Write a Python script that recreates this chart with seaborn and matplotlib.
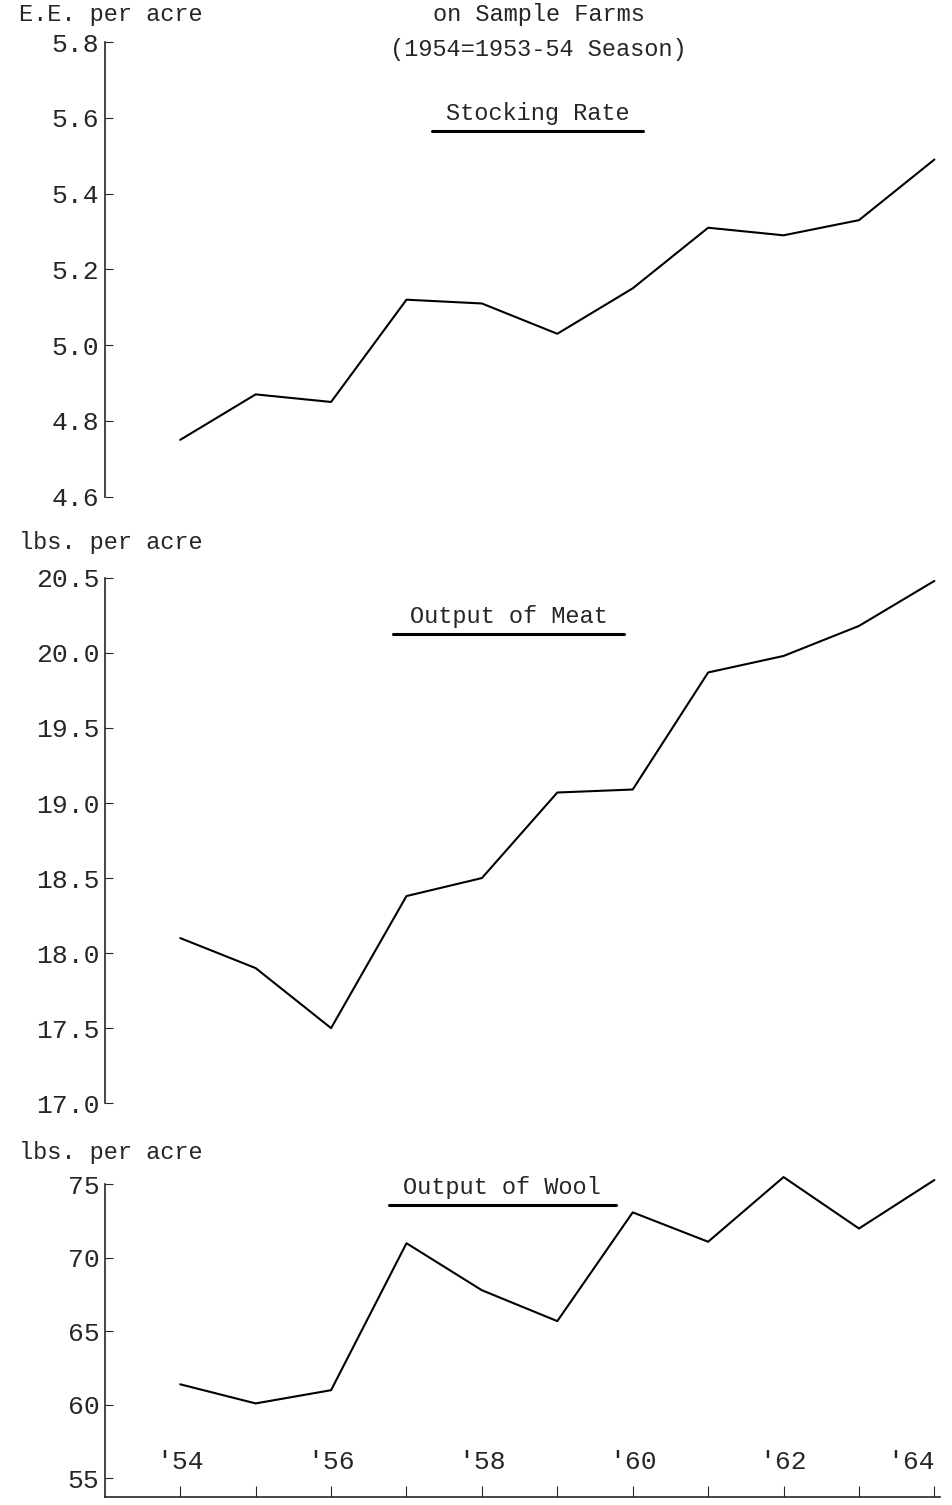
import matplotlib
matplotlib.use("Agg")
import matplotlib.pyplot as plt
import seaborn as sns
import pandas as pd

years = [54, 55, 56, 57, 58, 59, 60, 61, 62, 63, 64]
stocking = [4.75, 4.87, 4.85, 5.12, 5.11, 5.03, 5.15, 5.31, 5.29, 5.33, 5.49]
meat = [18.1, 17.9, 17.5, 18.38, 18.5, 19.07, 19.09, 19.87, 19.98, 20.18, 20.48]
wool = [61.4, 60.1, 61.0, 71.0, 67.8, 65.7, 73.1, 71.1, 75.5, 72.0, 75.3]
xtick_years = [54, 56, 58, 60, 62, 64]
xtick_labels = ["'54", "'56", "'58", "'60", "'62", "'64"]

sns.set_style("white")
plt.rcParams['font.family'] = ['Liberation Mono', 'DejaVu Sans Mono']

fig = plt.figure(figsize=(9.53, 15.05), dpi=100)
L, W = 0.110, 0.876
ax1 = fig.add_axes([L, 0.670, W, 0.302])
ax2 = fig.add_axes([L, 0.267, W, 0.349])
ax3 = fig.add_axes([L, 0.005, W, 0.208])

df = pd.DataFrame({"year": years, "stock": stocking, "meat": meat, "wool": wool})
for ax, col in [(ax1, "stock"), (ax2, "meat"), (ax3, "wool")]:
    sns.lineplot(data=df, x="year", y=col, ax=ax, color="black", lw=1.5)
    for ln in ax.lines:
        ln.set_clip_on(False)
    ax.set_xlim(53, 64.07)
    ax.set_xlabel(""); ax.set_ylabel("")
    for s in ["top", "right"]:
        ax.spines[s].set_visible(False)
    ax.spines["left"].set_linewidth(1.2)
    ax.tick_params(axis="y", direction="in", length=6, labelsize=19, pad=4, left=True)
    ax.set_facecolor("none")

ax1.set_ylim(4.6, 5.8)
ax1.set_yticks([4.6, 4.8, 5.0, 5.2, 5.4, 5.6, 5.8])
ax1.set_yticklabels([f"{v:.1f}" for v in [4.6, 4.8, 5.0, 5.2, 5.4, 5.6, 5.8]])
ax2.set_ylim(17.0, 20.5)
ax2.set_yticks([17.0, 17.5, 18.0, 18.5, 19.0, 19.5, 20.0, 20.5])
ax2.set_yticklabels([f"{v:.1f}" for v in [17.0, 17.5, 18.0, 18.5, 19.0, 19.5, 20.0, 20.5]])
ax3.set_ylim(53.7, 75)
ax3.set_yticks([55, 60, 65, 70, 75])

for ax in (ax1, ax2):
    ax.spines["bottom"].set_visible(False)
    ax.set_xticks([])
ax3.spines["bottom"].set_linewidth(1.2)
ax3.set_xticks(years)
ax3.set_xticklabels([xtick_labels[xtick_years.index(y)] if y in xtick_years else "" for y in years])
ax3.tick_params(axis="x", direction="in", length=8, labelsize=19, pad=-34, bottom=True)
ax3.get_xticklabels()[-1].set_ha("right")
ax3.get_xticklabels()[-1].set_x(64.07)

def title(ax, txt, y, x0, x1):
    ax.text((x0 + x1) / 2, y, txt, transform=ax.transAxes, ha="center", va="bottom", fontsize=17)
    off = 0.012 * (0.35 / ax.get_position().height)
    ax.plot([x0, x1], [y - off, y - off], transform=ax.transAxes, color="black", lw=2.2, clip_on=False)

title(ax1, "Stocking Rate", 0.818, 0.392, 0.645)
title(ax2, "Output of Meat", 0.905, 0.345, 0.622)
title(ax3, "Output of Wool", 0.955, 0.340, 0.612)

fig.text(0.565, 0.998, "on Sample Farms", ha="center", va="top", fontsize=17)
fig.text(0.565, 0.975, "(1954=1953-54 Season)", ha="center", va="top", fontsize=17)
fig.text(0.02, 0.998, "E.E. per acre", ha="left", va="top", fontsize=17)
fig.text(0.02, 0.647, "lbs. per acre", ha="left", va="top", fontsize=17)
fig.text(0.02, 0.242, "lbs. per acre", ha="left", va="top", fontsize=17)

fig.savefig("out.png", dpi=100, facecolor="white")
